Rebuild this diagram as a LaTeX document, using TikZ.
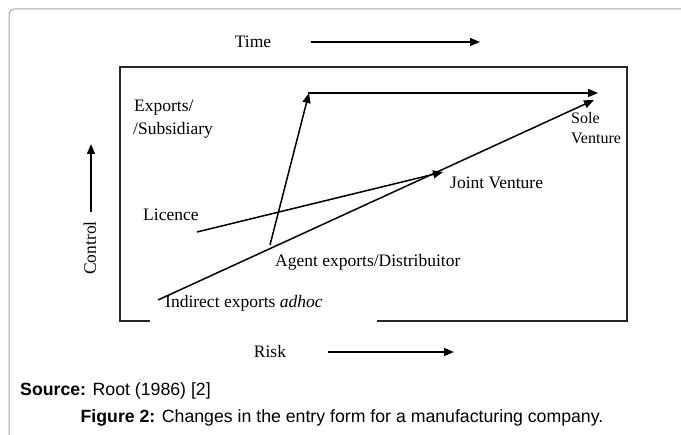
\documentclass[tikz,border=0pt]{standalone}
\usepackage{fontspec}
\setmainfont{Liberation Serif}
\newfontfamily\capfont{Liberation Sans}
\usetikzlibrary{arrows.meta}
\begin{document}
\begin{tikzpicture}[x=1pt,y=-1pt,
  lbl/.style={inner sep=0pt,font=\fontsize{17.5}{20}\selectfont},
  smlbl/.style={inner sep=0pt,font=\fontsize{16}{19}\selectfont},
  arr/.style={line width=1.5pt,-{Triangle[length=10pt,width=8pt]}},
  boxline/.style={line width=1.2pt,draw=black!85},
  capt/.style={inner sep=0pt,font=\capfont\fontsize{17.7}{20}\selectfont}]
\useasboundingbox (0,0) rectangle (681,435);
\begin{scope}
\clip (0,0) rectangle (681,435);
\draw[line width=1pt,draw=black!35,rounded corners=6pt] (9,9) rectangle (720,470);
\end{scope}
% inner box with a gap at the bottom
\draw[boxline] (150,321) -- (120,321) -- (120,67) -- (627,67) -- (627,321) -- (377,321);
% axis labels
\node[lbl] (time) at (253,42) {Time};
\coordinate (timeA) at (311,42);
\coordinate (timeB) at (480,42);
\draw[arr,line width=1.3pt] (timeA) -- (timeB);
\node[lbl] (risk) at (270,352) {Risk};
\coordinate (riskA) at (328,352);
\coordinate (riskB) at (454,352);
\draw[arr,line width=1.3pt] (riskA) -- (riskB);
\node[lbl,rotate=90] (control) at (90,248) {Control};
\coordinate (ctrlA) at (91,212);
\coordinate (ctrlB) at (91,144);
\draw[arr,line width=1.3pt] (ctrlA) -- (ctrlB);
% entry form labels
\node[lbl,anchor=west] (exp) at (134,108) {Exports/};
\node[lbl,anchor=west] (sub) at (133,130) {/Subsidiary};
\node[smlbl,anchor=west] (sole) at (571,118) {Sole};
\node[smlbl,anchor=west] (vent) at (571,138) {Venture};
\node[lbl,anchor=west] (jv) at (450,183) {Joint Venture};
\node[lbl,anchor=west] (lic) at (143,215) {Licence};
\node[lbl,anchor=west] (agent) at (275,262) {Agent exports/Distribuitor};
\node[lbl,anchor=west] (ind) at (165,303) {Indirect exports \textit{adhoc}};
% path points
\coordinate (pInd) at (158,300);
\coordinate (pSole) at (594,100);
\coordinate (pAgent) at (270,245);
\coordinate (pExp) at (309,93);
\coordinate (pTop) at (598,93);
\coordinate (pLic) at (197,232);
\coordinate (pJV) at (443,172);
\draw[arr] (pInd) -- (pSole);
\draw[arr] (pAgent) -- (pExp);
\draw[arr,shorten <=-0.7pt] (pExp) -- (pTop);
\draw[arr] (pLic) -- (pJV);
% caption
\node[capt,anchor=west] (src) at (20,391) {\textbf{Source:} Root (1986) [2]};
\node[capt] (fig) at (342,418) {\textbf{Figure 2:} Changes in the entry form for a manufacturing company.};
\end{tikzpicture}
\end{document}
